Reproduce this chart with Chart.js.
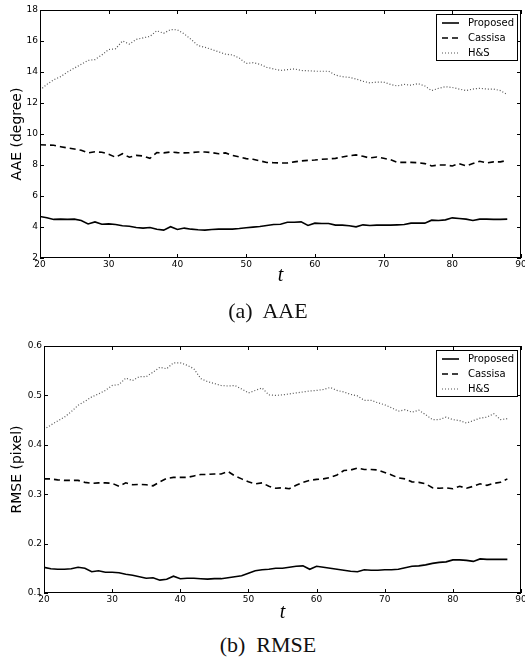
<!DOCTYPE html>
<html>
<head>
<meta charset="utf-8">
<script src="https://cdn.jsdelivr.net/npm/chart.js@4.4.1/dist/chart.umd.min.js"></script>
<style>
html,body{margin:0;padding:0;background:#fff;}
#wrap{position:relative;width:525px;height:662px;overflow:hidden;background:#fff;}
.box{position:absolute;left:0;}
.cap{position:absolute;left:168px;width:200px;text-align:center;font-family:"Liberation Serif","Times New Roman",serif;font-size:22px;line-height:22px;color:#111;white-space:pre;}
</style>
</head>
<body>
<div id="wrap">
  <div class="box" style="top:0;width:525px;height:300px"><canvas id="c1" width="525" height="300"></canvas></div>
  <div class="cap" style="top:300px">(a)  AAE</div>
  <div class="box" style="top:330px;width:525px;height:300px"><canvas id="c2" width="525" height="300"></canvas></div>
  <div class="cap" style="top:634px">(b)  RMSE</div>
</div>
<script>
// ---------------- data ----------------
const T = [20,21,22,23,24,25,26,27,28,29,30,31,32,33,34,35,36,37,38,39,40,41,42,43,44,45,46,47,48,49,
           50,51,52,53,54,55,56,57,58,59,60,61,62,63,64,65,66,67,68,69,70,71,72,73,74,75,76,77,78,79,
           80,81,82,83,84,85,86,87,88];

const SERIES_NAMES = ['Proposed', 'Cassisa', 'H&S'];

const AAE_PROPOSED = [4.68,4.60,4.49,4.51,4.49,4.51,4.42,4.20,4.33,4.18,
  4.20,4.16,4.08,4.05,3.97,3.93,3.97,3.86,3.80,4.02,
  3.84,3.93,3.86,3.82,3.80,3.84,3.86,3.86,3.86,3.90,
  3.95,3.99,4.03,4.10,4.16,4.18,4.31,4.31,4.33,4.10,
  4.25,4.23,4.23,4.12,4.12,4.08,4.01,4.14,4.10,4.12,
  4.12,4.12,4.14,4.16,4.25,4.25,4.25,4.44,4.42,4.46,
  4.59,4.55,4.51,4.42,4.51,4.51,4.49,4.49,4.51];
const AAE_CASSISA = [9.31,9.29,9.27,9.18,9.10,9.03,8.95,8.78,8.85,8.82,
  8.70,8.50,8.73,8.50,8.62,8.58,8.43,8.80,8.78,8.84,
  8.80,8.78,8.80,8.84,8.84,8.80,8.73,8.78,8.62,8.52,
  8.41,8.37,8.27,8.16,8.15,8.13,8.13,8.20,8.26,8.30,
  8.32,8.37,8.39,8.43,8.52,8.60,8.65,8.56,8.45,8.52,
  8.43,8.34,8.17,8.17,8.17,8.15,8.09,7.94,8.00,8.00,
  7.94,8.09,7.94,8.09,8.24,8.13,8.20,8.20,8.30];
const AAE_HS = [12.83,13.20,13.50,13.70,14.00,14.25,14.50,14.75,14.80,15.10,
  15.45,15.50,16.00,15.80,16.10,16.20,16.30,16.66,16.50,16.74,
  16.72,16.45,16.10,15.70,15.60,15.45,15.30,15.15,15.10,14.90,
  14.55,14.60,14.50,14.30,14.20,14.10,14.15,14.20,14.10,14.08,
  14.05,14.05,14.05,13.80,13.70,13.65,13.55,13.40,13.30,13.35,
  13.35,13.20,13.10,13.20,13.15,13.25,13.10,12.80,12.95,13.05,
  13.00,12.90,12.80,12.90,12.95,12.90,12.90,12.80,12.55];

const RMSE_PROPOSED = [0.152,0.149,0.148,0.148,0.149,0.152,0.150,0.143,0.145,0.142,
  0.142,0.141,0.138,0.136,0.133,0.130,0.131,0.126,0.128,0.134,
  0.129,0.130,0.130,0.129,0.128,0.129,0.129,0.131,0.133,0.135,
  0.140,0.145,0.147,0.148,0.150,0.150,0.152,0.154,0.155,0.148,
  0.154,0.152,0.150,0.148,0.146,0.144,0.143,0.147,0.146,0.146,
  0.147,0.147,0.148,0.151,0.154,0.155,0.157,0.160,0.162,0.163,
  0.167,0.167,0.166,0.164,0.169,0.168,0.168,0.168,0.168];
const RMSE_CASSISA = [0.331,0.331,0.329,0.328,0.328,0.328,0.324,0.322,0.323,0.323,
  0.322,0.316,0.323,0.319,0.320,0.319,0.317,0.325,0.332,0.334,
  0.334,0.334,0.337,0.340,0.340,0.341,0.341,0.346,0.337,0.331,
  0.325,0.321,0.323,0.316,0.312,0.313,0.311,0.318,0.324,0.328,
  0.330,0.331,0.334,0.339,0.348,0.349,0.353,0.350,0.350,0.349,
  0.344,0.339,0.333,0.331,0.325,0.324,0.321,0.313,0.312,0.313,
  0.311,0.316,0.312,0.316,0.321,0.318,0.322,0.324,0.331];
const RMSE_HS = [0.431,0.440,0.448,0.456,0.467,0.480,0.488,0.497,0.503,0.510,
  0.520,0.522,0.535,0.530,0.538,0.538,0.547,0.557,0.554,0.566,
  0.566,0.561,0.554,0.534,0.528,0.524,0.520,0.519,0.520,0.513,
  0.505,0.510,0.515,0.501,0.500,0.501,0.503,0.505,0.507,0.509,
  0.510,0.512,0.516,0.510,0.507,0.502,0.499,0.490,0.490,0.485,
  0.481,0.475,0.468,0.471,0.466,0.470,0.461,0.451,0.451,0.456,
  0.451,0.449,0.444,0.449,0.454,0.456,0.463,0.451,0.453];

const X_TICKS = [20,30,40,50,60,70,80,90];
const X_LABELS = ['20','30','40','50','60','70','80','90'];
const AAE_TICKS = [2,4,6,8,10,12,14,16,18];
const AAE_LABELS = ['2','4','6','8','10','12','14','16','18'];
const RMSE_TICKS = [0.1,0.2,0.3,0.4,0.5,0.6];
const RMSE_LABELS = ['0.1','0.2','0.3','0.4','0.5','0.6'];

// ---------------- styles ----------------
const STYLES = [
  {borderColor:'#000', borderWidth:1.6, borderDash:[]},
  {borderColor:'#000', borderWidth:1.6, borderDash:[6,4]},
  {borderColor:'#555', borderWidth:1.2, borderDash:[1,2]}
];
const TICK_FONT = {family:'"DejaVu Sans", sans-serif', size:9};

function pts(vals){ return vals.map((v,i)=>({x:T[i], y:v})); }

const framePlugin = {
  id:'frame',
  afterDatasetsDraw(chart, args, opts){
    const {ctx, chartArea:a, scales} = chart;
    const xs = scales.x, ys = scales.y;
    ctx.save();
    ctx.strokeStyle = '#000';
    ctx.lineWidth = 1;
    ctx.setLineDash([]);
    ctx.strokeRect(Math.round(a.left)+0.5, Math.round(a.top)+0.5,
                   Math.round(a.right)-Math.round(a.left)-1, Math.round(a.bottom)-Math.round(a.top)-1);
    const L = 4;
    ctx.beginPath();
    opts.xticks.forEach(v=>{
      const p = Math.round(xs.getPixelForValue(v))+0.5;
      ctx.moveTo(p, a.bottom); ctx.lineTo(p, a.bottom-L);
      ctx.moveTo(p, a.top); ctx.lineTo(p, a.top+L);
    });
    opts.yticks.forEach(v=>{
      const p = Math.round(ys.getPixelForValue(v))+0.5;
      ctx.moveTo(a.left, p); ctx.lineTo(a.left+L, p);
      ctx.moveTo(a.right, p); ctx.lineTo(a.right-L, p);
    });
    ctx.stroke();

    // legend
    ctx.font = '10px "DejaVu Sans", sans-serif';
    const ds = chart.data.datasets;
    const tw = Math.max(...ds.map(d=>ctx.measureText(d.label).width));
    const bw = Math.round(32 + tw + 3), bh = 46;
    const bx = Math.round(a.right - 4 - bw), by = Math.round(a.top + 4);
    ctx.fillStyle = '#fff';
    ctx.fillRect(bx, by, bw, bh);
    ctx.strokeStyle = '#000';
    ctx.lineWidth = 1;
    ctx.strokeRect(bx+0.5, by+0.5, bw, bh);
    ds.forEach((d,i)=>{
      const yy = by + 9 + i*15;
      ctx.beginPath();
      ctx.strokeStyle = d.borderColor;
      ctx.lineWidth = d.borderWidth;
      ctx.setLineDash(d.borderDash);
      ctx.moveTo(bx+6, yy); ctx.lineTo(bx+23, yy);
      ctx.stroke();
      ctx.setLineDash([]);
      ctx.fillStyle = '#000';
      ctx.textBaseline = 'middle';
      ctx.textAlign = 'left';
      ctx.fillText(d.label, bx+32, yy);
    });
    ctx.restore();
  }
};

function makeChart(id, series, yTicks, yLabels, yTitle, geom){
  const datasets = series.map((vals,i)=>Object.assign({
    label: SERIES_NAMES[i],
    data: pts(vals),
    pointRadius:0, tension:0, fill:false
  }, STYLES[i]));
  return new Chart(document.getElementById(id), {
    type:'line',
    data:{datasets},
    plugins:[framePlugin],
    options:{
      responsive:false, animation:false, devicePixelRatio:1, events:[],
      layout:{padding:{top:geom.top, right:geom.right, left:0, bottom:0}},
      plugins:{legend:{display:false}, tooltip:{enabled:false},
               frame:{xticks:X_TICKS, yticks:yTicks}},
      scales:{
        x:{type:'linear', min:20, max:90,
           grid:{display:false, drawTicks:false}, border:{display:false},
           afterBuildTicks(s){ s.ticks = X_TICKS.map(v=>({value:v})); },
           afterFit(s){ s.height = geom.xh; s.paddingLeft = 0; s.paddingRight = 0; },
           ticks:{autoSkip:false, maxRotation:0, padding:1, color:'#000', font:TICK_FONT,
                  callback:(v)=>X_LABELS[X_TICKS.indexOf(v)]},
           title:{display:true, text:'t', color:'#000',
                  font:{family:'"Liberation Serif", serif', size:20, style:'italic'},
                  padding:{top:0, bottom:geom.tpad}}
        },
        y:{type:'linear', min:yTicks[0], max:yTicks[yTicks.length-1],
           grid:{display:false, drawTicks:false}, border:{display:false},
           afterBuildTicks(s){ s.ticks = yTicks.map(v=>({value:v})); },
           afterFit(s){ s.width = geom.yw; s.paddingTop = 0; s.paddingBottom = 0; },
           ticks:{autoSkip:false, padding:2, color:'#000', font:TICK_FONT,
                  callback:(v)=>{ const k = yTicks.findIndex(t=>Math.abs(t-v)<1e-9); return k>=0 ? yLabels[k] : ''; }},
           title:{display:true, text:yTitle, color:'#000',
                  font:{family:'"DejaVu Sans", sans-serif', size:14},
                  padding:{top:9, bottom:0}}
        }
      }
    }
  });
}

makeChart('c1', [AAE_PROPOSED, AAE_CASSISA, AAE_HS], AAE_TICKS, AAE_LABELS, 'AAE (degree)',
  {top:10, right:4, yw:40, xh:42, tpad:12});
makeChart('c2', [RMSE_PROPOSED, RMSE_CASSISA, RMSE_HS], RMSE_TICKS, RMSE_LABELS, 'RMSE (pixel)',
  {top:16, right:4, yw:44, xh:37, tpad:5});
</script>
</body>
</html>
